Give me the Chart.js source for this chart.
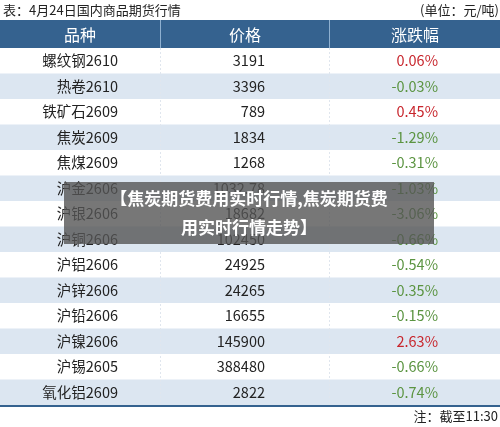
<!DOCTYPE html>
<html><head><meta charset="utf-8">
<script src="https://cdn.jsdelivr.net/npm/chart.js@4"></script>
<style>body{margin:0;background:#fff}#w{width:500px;height:427px}</style>
</head><body><div id="w"><canvas id="c"></canvas></div>
<script>
const fullNames=["螺纹钢2610","热卷2610","铁矿石2609","焦炭2609","焦煤2609","沪金2606","沪银2606","沪铜2606","沪铝2606","沪锌2606","沪铅2606","沪镍2606","沪锡2605","氧化铝2609"];
const prices=["3191","3396","789","1834","1268","1032.78","18682","102450","24925","24265","16655","145900","388480","2822"];
const changes=[0.06,-0.03,0.45,-1.29,-0.31,-1.03,-3.06,-0.66,-0.54,-0.35,-0.15,2.63,-0.66,-0.74];
const FONT='"Noto Sans CJK SC","Noto Sans",sans-serif';
const tablePlugin={id:'tbl',afterDraw(ch){
 const c=ch.ctx,y=ch.scales.y,W=ch.width;
 const step=Math.abs(y.getPixelForValue(1)-y.getPixelForValue(0));
 c.save();
 c.fillStyle='#222';c.font='13px '+FONT;c.textBaseline='middle';
 c.textAlign='left';c.fillText('表：4月24日国内商品期货行情',3,10);
 c.textAlign='right';c.fillText('(单位：元/吨)',499,10);
 c.fillStyle='#35628f';c.fillRect(0,20,W,28);
 c.strokeStyle='#8fb0d0';c.lineWidth=1;
 [160.5,329.5].forEach(x=>{c.beginPath();c.moveTo(x,20);c.lineTo(x,48);c.stroke();});
 c.fillStyle='#fff';c.font='16px '+FONT;c.textAlign='center';
 c.fillText('品种',80,35);c.fillText('价格',245,35);c.fillText('涨跌幅',415,35);
 fullNames.forEach((n,i)=>{
  const cy=y.getPixelForValue(i),top=cy-step/2;
  c.fillStyle=i%2?'#dce6f1':'#ffffff';c.fillRect(0,top,W,step);
  c.font='14.5px '+FONT;c.textAlign='right';c.fillStyle='#222';
  c.fillText(n,118,cy);c.fillText(prices[i],265,cy);
  const v=changes[i];c.fillStyle=v>=0?'#c8262d':'#5b9441';
  c.fillText(v.toFixed(2)+'%',438,cy);
 });
 const bot=y.getPixelForValue(fullNames.length-1)+step/2;
 c.strokeStyle='#e0e6ee';c.setLineDash([2,2]);
 [160.5,329.5].forEach(x=>{c.beginPath();c.moveTo(x,48);c.lineTo(x,bot);c.stroke();});
 c.setLineDash([]);
 c.strokeStyle='#35628f';c.lineWidth=2;c.beginPath();c.moveTo(0,bot+1);c.lineTo(W,bot+1);c.stroke();
 c.fillStyle='#222';c.font='13px '+FONT;c.textAlign='right';c.fillText('注：截至11:30',498,bot+11);
 c.fillStyle='rgba(85,85,85,0.8)';c.fillRect(64,182,370,62);
 c.fillStyle='#fff';c.font='bold 17px '+FONT;c.textAlign='center';
 c.fillText('【焦炭期货费用实时行情,焦炭期货费',249,199);
 c.fillText('用实时行情走势】',249,228);
 c.restore();
}};
new Chart(document.getElementById('c'),{type:'bar',
 data:{labels:fullNames,datasets:[{data:fullNames.map(()=>0)}]},
 options:{responsive:true,maintainAspectRatio:false,animation:false,indexAxis:'y',
  layout:{padding:{top:48,bottom:22,left:0,right:0}},
  plugins:{legend:{display:false},tooltip:{enabled:false}},
  scales:{y:{type:'category',display:false,offset:true},x:{display:false,min:0,max:1}}},
 plugins:[tablePlugin]});
</script></body></html>
